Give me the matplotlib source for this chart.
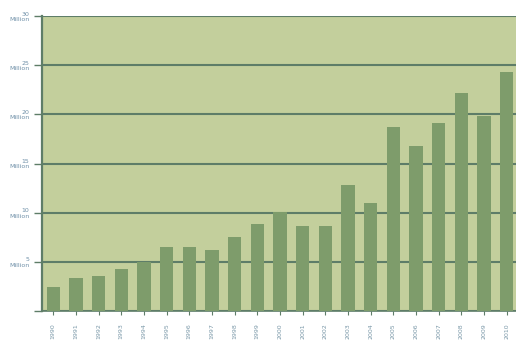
import matplotlib.pyplot as plt

# valeurs (millions)
years = [str(y) for y in range(1990, 2011)]
values = [2.45, 3.35, 3.55, 4.3, 5.0, 6.55, 6.5, 6.2, 7.5, 8.8, 10.1,
          8.6, 8.6, 12.8, 11.0, 18.7, 16.8, 19.1, 22.2, 19.8, 24.3]
yticks = [0, 5, 10, 15, 20, 25, 30]
ylabels = ['', '5\nMillion', '10\nMillion', '15\nMillion', '20\nMillion',
           '25\nMillion', '30\nMillion']

fig = plt.figure(figsize=(5.16, 3.47), dpi=100)
ax = fig.add_axes([42/516, 36/347, 476/516, 295/347])
ax.set_facecolor('#c3cf9c')

ax.bar(range(len(values)), values, width=0.6, color='#7e9c6b', zorder=3)

ax.set_xlim(-0.5, len(values) - 0.5)
ax.set_ylim(0, 30)
ax.set_yticks(yticks)
ax.set_yticklabels(ylabels, fontsize=4.5, color='#6f90a8', linespacing=1.1)
ax.set_xticks(range(len(values)))
ax.set_xticklabels(years, rotation=90, fontsize=4.5, color='#7a98a8')
ax.grid(axis='y', color='#5e7d68', linewidth=1.5, zorder=1)
ax.tick_params(axis='y', length=6, width=1, color='#5e7d68', pad=3)
ax.tick_params(axis='x', length=3, width=0.8, color='#5e7d68', pad=6)

for s in ['top', 'right']:
    ax.spines[s].set_visible(False)
ax.spines['left'].set_color('#5e7d68')
ax.spines['left'].set_linewidth(1.6)
ax.spines['bottom'].set_color('#5e7d68')
ax.spines['bottom'].set_linewidth(1.2)

fig.savefig('out.png', dpi=100)
